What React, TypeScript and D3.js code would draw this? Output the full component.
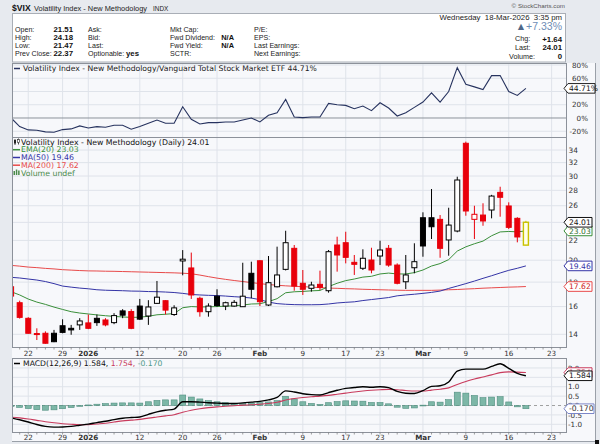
import * as d3 from "d3";

// ---- data ----
const tradingDays = [
  "2025-12-18", "2025-12-19", "2025-12-22", "2025-12-23", "2025-12-24", "2025-12-26", "2025-12-29", "2025-12-30", "2025-12-31",
  "2026-01-02", "2026-01-05", "2026-01-06", "2026-01-07", "2026-01-08", "2026-01-09", "2026-01-12", "2026-01-13", "2026-01-14",
  "2026-01-15", "2026-01-16", "2026-01-20", "2026-01-21", "2026-01-22", "2026-01-23", "2026-01-26", "2026-01-27", "2026-01-28",
  "2026-01-29", "2026-01-30",
  "2026-02-02", "2026-02-03", "2026-02-04", "2026-02-05", "2026-02-06", "2026-02-09", "2026-02-10", "2026-02-11", "2026-02-12",
  "2026-02-13", "2026-02-17", "2026-02-18", "2026-02-19", "2026-02-20", "2026-02-23", "2026-02-24", "2026-02-25", "2026-02-26",
  "2026-02-27",
  "2026-03-02", "2026-03-03", "2026-03-04", "2026-03-05", "2026-03-06", "2026-03-09", "2026-03-10", "2026-03-11", "2026-03-12",
  "2026-03-13", "2026-03-16", "2026-03-17", "2026-03-18",
];
const futureDays = ["2026-03-19", "2026-03-20", "2026-03-23", "2026-03-24", "2026-03-25"];

const opens = [
  17.6, 16.3, 15.12, 14.05, 14.07, 14.07, 14.59, 14.41, 14.65,
  14.79, 15.12, 15.0, 14.81, 15.67, 15.62, 16.04, 15.29, 16.25, 16.46, 15.4, 19.93, 19.27, 16.65, 15.61, 16.82, 16.04, 16.04, 15.99, 18.78,
  19.95, 16.12, 17.6, 19.14, 21.18, 17.9, 17.47, 17.81, 17.27, 21.52, 21.76, 19.8, 19.24, 20.02, 20.41, 21.18, 19.54, 18.03, 19.29,
  24.54, 24.54, 24.35, 22.05, 23.02, 35.12, 24.35, 24.86, 25.47, 27.73, 25.97, 24.47, 21.51,
];
const highs = [
  17.7, 16.46, 15.2, 14.41, 14.2, 14.3, 15.05, 14.65, 15.13,
  15.4, 15.4, 15.13, 15.5, 15.8, 15.8, 16.6, 16.5, 18.1, 16.5, 16.1, 21.0, 20.75, 16.78, 16.25, 17.39, 16.38, 16.51, 19.76, 19.86,
  20.0, 20.41, 21.35, 23.05, 21.52, 19.08, 18.03, 19.02, 21.01, 22.4, 22.94, 20.51, 21.08, 21.24, 21.97, 21.52, 19.7, 20.51, 21.7,
  25.19, 28.18, 24.86, 25.75, 29.9, 35.4, 26.0, 26.31, 27.4, 28.49, 26.43, 24.6, 24.18,
];
const lows = [
  16.75, 15.1, 14.05, 13.62, 13.38, 13.48, 14.07, 13.97, 14.3,
  14.35, 14.58, 14.55, 14.7, 15.13, 14.35, 15.0, 14.65, 16.2, 15.4, 15.3, 18.6, 16.6, 15.24, 15.24, 15.99, 15.73, 15.99, 15.99, 16.65,
  16.04, 16.04, 17.55, 19.04, 17.27, 16.92, 17.19, 17.33, 17.11, 18.93, 19.7, 18.63, 19.08, 18.78, 19.54, 19.38, 17.81, 17.41, 18.78,
  20.34, 22.15, 20.24, 20.44, 22.88, 24.78, 22.15, 23.61, 24.47, 24.66, 23.24, 21.8, 21.47,
];
const closes = [
  16.83, 15.19, 14.07, 14.02, 13.41, 13.51, 14.13, 14.3, 14.93,
  14.41, 14.81, 14.65, 15.32, 15.35, 14.41, 15.06, 15.97, 16.74, 15.73, 15.9, 20.1, 16.92, 15.61, 16.04, 16.08, 16.3, 16.33, 16.82, 17.39,
  16.38, 17.95, 18.63, 21.76, 17.66, 17.39, 17.75, 17.55, 20.84, 20.51, 20.28, 19.61, 20.19, 19.08, 21.01, 19.54, 17.9, 18.63, 19.86,
  21.42, 23.5, 21.18, 23.69, 29.43, 25.35, 24.95, 24.16, 27.24, 27.08, 23.43, 22.37, 24.01,
];

const ema20 = [
  17.19, 16.92, 16.59, 16.35, 16.17, 15.96, 15.78, 15.61, 15.51,
  15.44, 15.37, 15.31, 15.26, 15.22, 15.19, 15.2, 15.27, 15.38, 15.42, 15.47, 15.91, 16.0, 15.97, 15.98, 16.0, 16.03, 16.06, 16.12, 16.2,
  16.22, 16.39, 16.62, 17.1, 17.18, 17.21, 17.26, 17.29, 17.62, 17.9, 18.13, 18.27, 18.44, 18.51, 18.72, 18.8, 18.72, 18.72, 18.84,
  19.08, 19.45, 19.68, 20.06, 20.9, 21.33, 21.65, 21.93, 22.5, 22.92, 22.97, 22.93, 23.03,
];
const ma50 = [
  18.42, 18.36, 18.27, 18.18, 18.05, 17.87, 17.66, 17.57, 17.49,
  17.43, 17.35, 17.31, 17.29, 17.27, 17.24, 17.23, 17.2, 17.19, 17.16, 17.12, 17.05, 16.96, 16.92, 16.89, 16.87, 16.83, 16.78, 16.74, 16.67,
  16.54, 16.35, 16.23, 16.18, 16.15, 16.14, 16.14, 16.15, 16.2, 16.28, 16.33, 16.37, 16.47, 16.55, 16.63, 16.71, 16.85, 16.92, 16.98,
  17.05, 17.13, 17.24, 17.46, 17.66, 17.87, 18.09, 18.33, 18.56, 18.81, 19.05, 19.24, 19.46,
];
const ma200 = [
  19.51, 19.44, 19.35, 19.3, 19.23, 19.18, 19.11, 19.07, 19.03,
  19.0, 18.99, 18.97, 18.96, 18.94, 18.92, 18.9, 18.88, 18.86, 18.84, 18.82, 18.79, 18.74, 18.62, 18.48, 18.35, 18.24, 18.14, 18.05, 17.96,
  17.87, 17.79, 17.73, 17.68, 17.64, 17.61, 17.57, 17.53, 17.49, 17.47, 17.44, 17.42, 17.39, 17.37, 17.35, 17.33, 17.31, 17.3, 17.3,
  17.3, 17.3, 17.32, 17.35, 17.37, 17.41, 17.44, 17.48, 17.51, 17.54, 17.57, 17.59, 17.62,
];

// $VIX / VTI relative performance, %
const relPerf = [
  0, -13, -18, -18.5, -21, -21.5, -17.5, -16.5, -12,
  -15, -13, -14, -11, -11, -17, -13, -8, -3, -8, -8, 17, -2, -9, -7, -7, -6, -6, -3, 0,
  -6, 4, 8, 28, 1.5, 0.5, 1.5, 1.5, 22, 20, 19, 14, 18, 11, 23, 15, 3, 8, 16,
  24, 38, 24, 40, 76, 51, 47, 43, 64, 64, 40, 34, 44.71,
];

const macdLine = [
  -0.66, -0.76, -0.88, -1.01, -1.11, -1.15, -1.14, -1.11, -1.05,
  -0.99, -0.91, -0.84, -0.75, -0.68, -0.64, -0.61, -0.47, -0.34, -0.25, -0.19, 0.2, 0.2, 0.18, 0.15, 0.13, 0.11, 0.11, 0.14, 0.18,
  0.22, 0.3, 0.43, 0.78, 0.72, 0.63, 0.58, 0.56, 0.69, 0.81, 0.91, 0.96, 1.0, 0.97, 1.0, 0.95, 0.75, 0.65, 0.64,
  0.79, 1.02, 1.05, 1.25, 1.83, 1.94, 1.94, 1.94, 2.08, 2.22, 1.98, 1.71, 1.584,
];
const signalLine = [
  -0.62, -0.66, -0.72, -0.79, -0.86, -0.92, -0.97, -1.0, -1.02,
  -1.02, -0.98, -0.94, -0.88, -0.82, -0.78, -0.74, -0.67, -0.61, -0.55, -0.49, -0.36, -0.25, -0.17, -0.11, -0.07, -0.04, -0.01, 0.02, 0.04,
  0.07, 0.11, 0.17, 0.29, 0.37, 0.43, 0.47, 0.5, 0.54, 0.6, 0.66, 0.72, 0.77, 0.81, 0.84, 0.86, 0.84, 0.8, 0.77,
  0.77, 0.82, 0.87, 0.94, 1.12, 1.28, 1.41, 1.52, 1.63, 1.75, 1.79, 1.78, 1.754,
];
const histogram = [
  -0.04, -0.1, -0.16, -0.22, -0.25, -0.23, -0.17, -0.11, -0.03,
  0.03, 0.07, 0.1, 0.13, 0.14, 0.14, 0.13, 0.2, 0.27, 0.3, 0.3, 0.56, 0.45, 0.35, 0.26, 0.2, 0.15, 0.12, 0.12, 0.14,
  0.15, 0.19, 0.26, 0.49, 0.35, 0.2, 0.11, 0.06, 0.15, 0.21, 0.25, 0.24, 0.23, 0.16, 0.16, 0.09, -0.09, -0.15, -0.13,
  0.02, 0.2, 0.18, 0.31, 0.71, 0.66, 0.53, 0.42, 0.45, 0.47, 0.19, -0.07, -0.17,
];

const tickDays = [
  "2025-12-22", "2025-12-29", "2026-01-02", "2026-01-12", "2026-01-20", "2026-01-26", "2026-02-02",
  "2026-02-09", "2026-02-17", "2026-02-23", "2026-03-02", "2026-03-09", "2026-03-16", "2026-03-23",
];
const tickLabels = ["22", "29", "2026", "12", "20", "26", "Feb", "9", "17", "23", "Mar", "9", "16", "23"];
const boldTicks = ["2026", "Feb", "Mar"];

// grid values; labels that sit under a price tag in the original are left blank
const priceTicks = [14, 16, 18, 20, 22, 24, 26, 28, 30, 32, 34];
const priceLabels = ["14", "16", "18", "20", "22", "", "26", "28", "30", "32", "34"];
const relTicks = [-20, 0, 20, 40, 60, 80];
const relLabels = ["-20%", "0%", "20%", "", "60%", "80%"];
const macdTicks = [-1.0, -0.5, 0.0, 0.5, 1.0, 1.5, 2.0];
const macdLabels = ["-1.0", "-0.5", "0.0", "0.5", "1.0", "", "2.0"];

const quoteLeft = [
  ["Open:", "21.51"], ["High:", "24.18"], ["Low:", "21.47"], ["Prev Close:", "22.37"],
];
const quoteMid = [["Ask:", ""], ["Bid:", ""], ["Last:", ""], ["Optionable:", "yes"]];
const quoteMid2 = [["Mkt Cap:", ""], ["Fwd Dividend:", "N/A"], ["Fwd Yield:", "N/A"], ["SCTR:", ""]];
const quoteRight = ["P/E:", "EPS:", "Last Earnings:", "Next Earnings:"];

// ---- layout ----
const PL = 12, PR = 566;
const REL_T = 63, REL_B = 137;
const MAIN_T = 137, MAIN_B = 347;
const MACD_T = 358, MACD_B = 432;
const FONT = "'DejaVu Sans', Verdana, sans-serif";
const HFONT = "'Liberation Sans', Arial, sans-serif";
const RED = "#e8000b";
const GRID = "#dfe3ea";
const PLOT_BG = "#f7f8fb";
const BORDER = "#8c919a";

function Tag({ y, text, color, textColor, x1 = 592 }: { y: number; text: string; color: string; textColor: string; x1?: number }) {
  const x0 = 564;
  const d = `M${x0},${y} L${x0 + 4},${y - 4.8} L${x1},${y - 4.8} L${x1},${y + 4.8} L${x0 + 4},${y + 4.8} Z`;
  return (
    <g>
      <path d={d} fill="#fff" stroke={color} strokeWidth={1} />
      <text x={x0 + 5} y={y + 2.7} fontSize={7.6} fontFamily={FONT} fill={textColor}>{text}</text>
    </g>
  );
}

export default function App() {
  const x = d3.scalePoint<string>().domain([...tradingDays, ...futureDays]).range([11.1, 568.8]);
  const xi = (i: number) => x(tradingDays[i]) as number;
  const yMain = d3.scaleLog().domain([13.17, 36.2]).range([MAIN_B, MAIN_T]);
  const yRel = d3.scaleLinear().domain([-28.7, 83]).range([REL_B, REL_T]);
  const yMacd = d3.scaleLinear().domain([-1.41, 2.53]).range([MACD_B, MACD_T]);

  const priceLine = (vals: number[]) =>
    d3.line<number>().x((_, i) => xi(i)).y((v) => yMain(v))(vals) ?? "";
  const relPath = d3.line<number>().x((_, i) => xi(i)).y((v) => yRel(v))(relPerf) ?? "";
  const macdPath = d3.line<number>().x((_, i) => xi(i)).y((v) => yMacd(v)).curve(d3.curveMonotoneX)(macdLine) ?? "";
  const sigPath = d3.line<number>().x((_, i) => xi(i)).y((v) => yMacd(v)).curve(d3.curveMonotoneX)(signalLine) ?? "";

  const allDays = [...tradingDays, ...futureDays];
  const bw = 5;

  const vGrid = (t: number, b: number) =>
    tickDays.map((d) => (
      <line key={d} x1={x(d)} x2={x(d)} y1={t} y2={b} stroke={GRID} strokeWidth={1} />
    ));

  const dateLabels = (y: number) =>
    tickDays.map((d, i) => (
      <text key={d} x={x(d)} y={y} textAnchor="middle" fontSize={7.2} fontFamily={FONT}
        fontWeight={boldTicks.includes(tickLabels[i]) ? "bold" : "normal"} fill="#333">
        {tickLabels[i]}
      </text>
    ));

  const smallTicks = (y: number) =>
    allDays.map((d) => {
      const xx = x(d) as number;
      if (xx < PL || xx > PR) return null;
      return <line key={d} x1={xx} x2={xx} y1={y} y2={y + 2} stroke="#777" strokeWidth={0.7} />;
    });

  return (
    <div style={{ position: "fixed", left: 0, top: 0, width: 600, height: 444 }}>
      <svg width={600} height={444} viewBox="0 0 600 444" style={{ display: "block" }}>
        <defs>
          <clipPath id="clipMain"><rect x={PL} y={MAIN_T} width={PR - PL} height={MAIN_B - MAIN_T} /></clipPath>
          <clipPath id="clipRel"><rect x={PL} y={REL_T} width={PR - PL} height={REL_B - REL_T} /></clipPath>
          <clipPath id="clipMacd"><rect x={PL} y={MACD_T} width={PR - PL} height={MACD_B - MACD_T} /></clipPath>
        </defs>
        <rect x={0} y={0} width={600} height={444} fill="#e7eaef" />
        <rect x={PL} y={REL_T} width={595 - PL} height={441 - REL_T} fill={PLOT_BG} />
        <line x1={595.5} x2={595.5} y1={REL_T} y2={441.5} stroke="#9aa0a8" />
        <line x1={PL} x2={595.5} y1={441.5} y2={441.5} stroke="#9aa0a8" />
        <rect x={595} y={440} width={4} height={4} fill="#111" />

        {/* ---- header ---- */}
        <text x={12} y={11} fontFamily={HFONT} fontSize={8.6} fontWeight="bold" fill="#111">$VIX</text>
        <text x={34} y={11} fontFamily={HFONT} fontSize={7.4} fill="#222">Volatility Index - New Methodology</text>
        <text x={153} y={11} fontFamily={HFONT} fontSize={6.4} fill="#222">INDX</text>
        <text x={565} y={8} textAnchor="end" fontFamily={HFONT} fontSize={6.2} fill="#555">© StockCharts.com</text>
        <rect x={12.5} y={13.5} width={553} height={48.5} fill="#fff" stroke="#a9aeb6" />
        {quoteLeft.map(([l, v], i) => (
          <g key={l}>
            <text x={15} y={31.6 + i * 8.1} fontFamily={HFONT} fontSize={7.1} fill="#222">{l}</text>
            <text x={73} y={31.8 + i * 8.1} textAnchor="end" fontFamily={HFONT} fontSize={7.8} fontWeight="bold" fill="#111">{v}</text>
          </g>
        ))}
        {quoteMid.map(([l, v], i) => (
          <g key={l}>
            <text x={88} y={31.6 + i * 8.1} fontFamily={HFONT} fontSize={7.1} fill="#222">{l}</text>
            {v && <text x={126} y={31.8 + i * 8.1} fontFamily={HFONT} fontSize={7.8} fontWeight="bold" fill="#111">{v}</text>}
          </g>
        ))}
        {quoteMid2.map(([l, v], i) => (
          <g key={l}>
            <text x={170} y={31.6 + i * 8.1} fontFamily={HFONT} fontSize={7.1} fill="#222">{l}</text>
            {v && <text x={234} y={31.8 + i * 8.1} textAnchor="end" fontFamily={HFONT} fontSize={7.4} fontWeight="bold" fill="#111">{v}</text>}
          </g>
        ))}
        {quoteRight.map((l, i) => (
          <text key={l} x={254} y={31.6 + i * 8.1} fontFamily={HFONT} fontSize={7.1} fill="#222">{l}</text>
        ))}
        <text x={562} y={20} textAnchor="end" fontFamily={HFONT} fontSize={7.8} fill="#222" style={{ whiteSpace: "pre" }}>
          Wednesday  18-Mar-2026  3:35 pm
        </text>
        <text x={562} y={30} textAnchor="end" fontFamily={HFONT} fontSize={10.5} fill="#6e8db6">
          <tspan fill="#4f6788">▲</tspan>+7.33%
        </text>
        <text x={515} y={41.3} fontFamily={HFONT} fontSize={7.2} fill="#222">Chg:</text>
        <text x={562} y={41.5} textAnchor="end" fontFamily={HFONT} fontSize={7.8} fontWeight="bold" fill="#111">+1.64</text>
        <text x={515} y={50} fontFamily={HFONT} fontSize={7.2} fill="#222">Last:</text>
        <text x={562} y={50.2} textAnchor="end" fontFamily={HFONT} fontSize={7.8} fontWeight="bold" fill="#111">24.01</text>
        <text x={509} y={59} fontFamily={HFONT} fontSize={7.2} fill="#222">Volume:</text>
        <text x={562} y={59.2} textAnchor="end" fontFamily={HFONT} fontSize={7.8} fontWeight="bold" fill="#111">0</text>

        {/* ---- relative performance panel ---- */}
        {vGrid(REL_T, REL_B)}
        {relTicks.map((t) => (
          <line key={t} x1={PL} x2={PR} y1={yRel(t)} y2={yRel(t)} stroke={t === 0 ? "#8d929a" : GRID} strokeWidth={1} />
        ))}
        <path d={relPath} fill="none" stroke="#27335f" strokeWidth={1.1} clipPath="url(#clipRel)" />
        <rect x={PL + 0.5} y={REL_T + 0.5} width={PR - PL} height={REL_B - REL_T} fill="none" stroke={BORDER} />
        <line x1={14} x2={20} y1={68.5} y2={68.5} stroke="#27335f" strokeWidth={1.5} />
        <text x={23} y={71.2} fontFamily={FONT} fontSize={7.7} fill="#222">
          Volatility Index - New Methodology/Vanguard Total Stock Market ETF 44.71%
        </text>
        {relTicks.map((t, i) => (
          <text key={t} x={588} y={yRel(t) + 2.7} textAnchor="end" fontFamily={FONT} fontSize={7.2} fill="#333">{relLabels[i]}</text>
        ))}
        <Tag y={yRel(44.71)} text="44.71%" color="#222" textColor="#111" x1={595} />

        {/* ---- price panel ---- */}
        {vGrid(MAIN_T, MAIN_B)}
        {priceTicks.map((t) => (
          <line key={t} x1={PL} x2={PR} y1={yMain(t)} y2={yMain(t)} stroke={GRID} strokeWidth={1} />
        ))}
        <g clipPath="url(#clipMain)">
          <path d={priceLine(ma200)} fill="none" stroke="#e84a4a" strokeWidth={1} />
          <path d={priceLine(ma50)} fill="none" stroke="#3434a6" strokeWidth={1} />
          <path d={priceLine(ema20)} fill="none" stroke="#3a8f3a" strokeWidth={1} />
          {tradingDays.map((d, i) => {
            const cx = xi(i);
            const o = opens[i], c = closes[i], h = highs[i], l = lows[i];
            const last = i === tradingDays.length - 1;
            const down = i === 0 ? c < o : c < closes[i - 1];
            const col = last ? "#c9c200" : down ? RED : "#000";
            const filled = c < o;
            const top = yMain(Math.max(o, c));
            const bot = yMain(Math.min(o, c));
            return (
              <g key={d}>
                <line x1={cx} x2={cx} y1={yMain(h)} y2={yMain(l)} stroke={col} strokeWidth={1} />
                <rect x={cx - bw / 2} y={top} width={bw} height={Math.max(1, bot - top)}
                  fill={last ? "#ffffe8" : filled ? col : "#fff"} stroke={col} strokeWidth={last ? 1.4 : 1} />
              </g>
            );
          })}
        </g>
        <rect x={PL + 0.5} y={MAIN_T + 0.5} width={PR - PL} height={MAIN_B - MAIN_T} fill="none" stroke={BORDER} />
        {/* legend */}
        <g>
          <line x1={15} x2={15} y1={139} y2={145} stroke="#222" strokeWidth={0.8} />
          <rect x={14} y={140} width={2} height={3.5} fill="#222" />
          <line x1={18.5} x2={18.5} y1={138.5} y2={144.5} stroke="#222" strokeWidth={0.8} />
          <rect x={17.5} y={139.5} width={2} height={3} fill="#fff" stroke="#222" strokeWidth={0.6} />
          <text x={21} y={144.5} fontFamily={FONT} fontSize={7.8} fill="#111">Volatility Index - New Methodology (Daily) 24.01</text>
          <line x1={13} x2={20} y1={149.7} y2={149.7} stroke="#3a8f3a" strokeWidth={1.5} />
          <text x={21} y={152.4} fontFamily={FONT} fontSize={7.8} fill="#3a8f3a">EMA(20) 23.03</text>
          <line x1={13} x2={20} y1={157.5} y2={157.5} stroke="#3434a6" strokeWidth={1.5} />
          <text x={21} y={160.2} fontFamily={FONT} fontSize={7.8} fill="#3434a6">MA(50) 19.46</text>
          <line x1={13} x2={20} y1={165.2} y2={165.2} stroke="#e84a4a" strokeWidth={1.5} />
          <text x={21} y={167.9} fontFamily={FONT} fontSize={7.8} fill="#e84a4a">MA(200) 17.62</text>
          <rect x={13.5} y={171} width={1.5} height={4} fill="#4a8a4a" />
          <rect x={15.8} y={169.5} width={1.5} height={5.5} fill="#4a8a4a" />
          <rect x={18.1} y={170.5} width={1.5} height={4.5} fill="#4a8a4a" />
          <text x={21} y={175.5} fontFamily={FONT} fontSize={7.8} fill="#4a8a4a">Volume undef</text>
        </g>
        {priceTicks.map((t, i) => (
          <text key={t} x={568.5} y={yMain(t) + 2.7} fontFamily={FONT} fontSize={7.4} fill="#333">{priceLabels[i]}</text>
        ))}
        <Tag y={yMain(17.62)} text="17.62" color="#e84a4a" textColor="#c22" />
        <Tag y={yMain(19.46)} text="19.46" color="#3434a6" textColor="#3434a6" />
        <Tag y={yMain(23.03)} text="23.03" color="#3a8f3a" textColor="#2d6e2d" />
        <Tag y={yMain(24.01)} text="24.01" color="#111" textColor="#111" />
        {smallTicks(MAIN_B + 0.5)}
        {dateLabels(355.6)}

        {/* ---- MACD panel ---- */}
        {vGrid(MACD_T, MACD_B)}
        {macdTicks.filter((t) => t !== 0).map((t) => (
          <line key={t} x1={PL} x2={PR} y1={yMacd(t)} y2={yMacd(t)} stroke={GRID} strokeWidth={1} />
        ))}
        <g clipPath="url(#clipMacd)">
          <line x1={PL} x2={PR} y1={yMacd(0)} y2={yMacd(0)} stroke="#888" strokeDasharray="3,3" strokeWidth={0.8} />
          {histogram.map((v, i) => {
            const y0 = yMacd(0), y1 = yMacd(v);
            return (
              <rect key={i} x={xi(i) - 3} y={Math.min(y0, y1)} width={6} height={Math.max(0.8, Math.abs(y1 - y0))}
                fill="#7db7a7" stroke="#4f8e7f" strokeWidth={0.6} />
            );
          })}
          <path d={sigPath} fill="none" stroke="#c83a5c" strokeWidth={1.1} />
          <path d={macdPath} fill="none" stroke="#000" strokeWidth={1.4} />
        </g>
        <rect x={PL + 0.5} y={MACD_T + 0.5} width={PR - PL} height={MACD_B - MACD_T} fill="none" stroke={BORDER} />
        <line x1={14} x2={20} y1={363.5} y2={363.5} stroke="#000" strokeWidth={1.5} />
        <text x={23} y={366.2} fontFamily={FONT} fontSize={7.7} fill="#111">
          MACD(12,26,9) 1.584, <tspan fill="#c83a5c">1.754,</tspan> <tspan fill="#4f9a8a">-0.170</tspan>
        </text>
        {macdTicks.map((t, i) => (
          <text key={t} x={568} y={yMacd(t) + 2.7} fontFamily={FONT} fontSize={7.2} fill="#333">{macdLabels[i]}</text>
        ))}
        <Tag y={yMacd(1.754)} text="1.754" color="#c83a5c" textColor="#c83a5c" />
        <Tag y={yMacd(1.584)} text="1.584" color="#111" textColor="#111" />
        <Tag y={yMacd(-0.17)} text="-0.170" color="#7b86c8" textColor="#333" x1={594} />
        {smallTicks(MACD_B + 0.5)}
        {dateLabels(439.6)}
      </svg>
    </div>
  );
}
